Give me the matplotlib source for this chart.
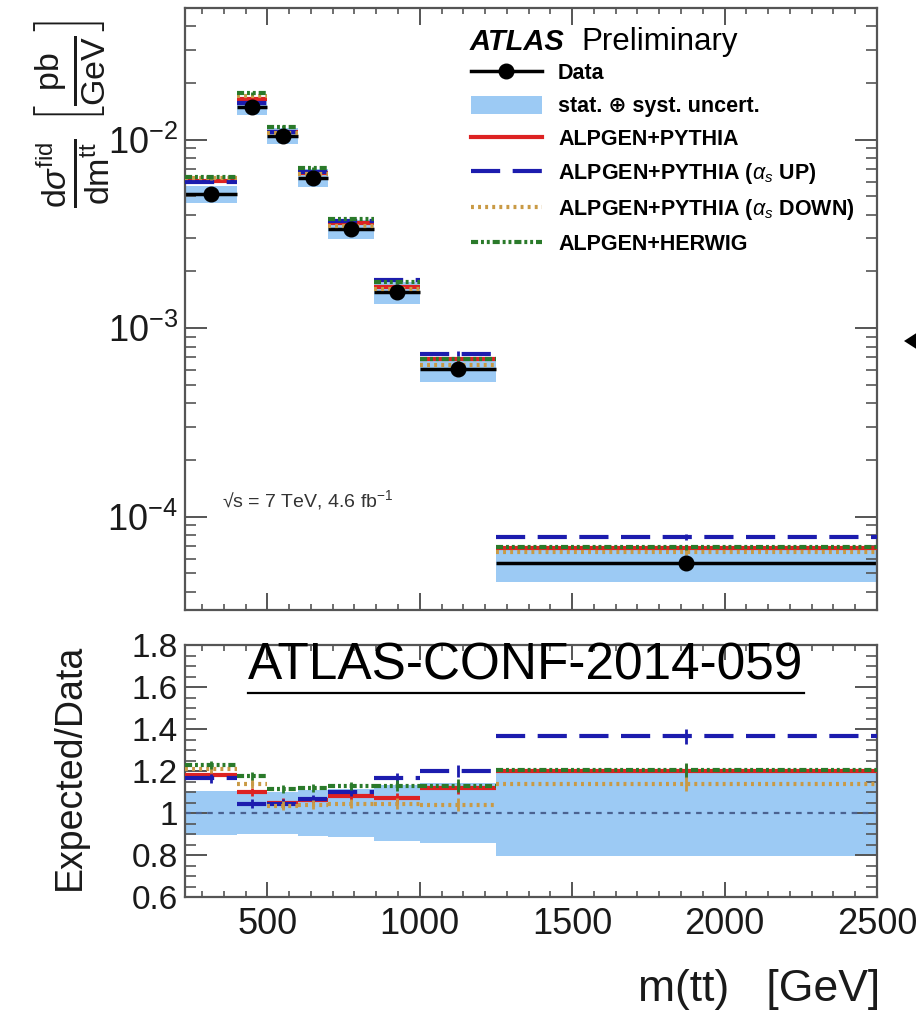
import matplotlib
matplotlib.use("Agg")
import matplotlib.pyplot as plt
import numpy as np
from matplotlib.lines import Line2D
from matplotlib.patches import Patch, Polygon
from matplotlib.ticker import (MultipleLocator, AutoMinorLocator, LogLocator,
                               NullFormatter, FuncFormatter, LogFormatterSciNotation)

plt.rcParams['font.family'] = ['Liberation Sans', 'DejaVu Sans']
plt.rcParams['mathtext.fontset'] = 'custom'
plt.rcParams['mathtext.rm'] = 'Liberation Sans'
plt.rcParams['mathtext.it'] = 'Liberation Sans:italic'
plt.rcParams['mathtext.bf'] = 'Liberation Sans:bold'
plt.rcParams['mathtext.sf'] = 'Liberation Sans'

# ---- m(tt) binning [GeV] ----
bin_edges = [230, 400, 500, 600, 700, 850, 1000, 1250, 2500]

# ---- unfolded fiducial cross-section, dsigma/dm [pb/GeV] ----
data_xsec = [5.15e-3, 1.50e-2, 1.05e-2, 6.3e-3, 3.35e-3, 1.55e-3, 6.1e-4, 5.7e-5]

# ---- total (stat + syst) uncertainty, relative to data ----
unc_low = [0.895, 0.90, 0.90, 0.89, 0.885, 0.865, 0.855, 0.795]
unc_high = [1.105, 1.10, 1.10, 1.11, 1.115, 1.135, 1.145, 1.19]

# ---- expected / data ----
ratio_pythia = [1.18, 1.10, 1.05, 1.06, 1.08, 1.07, 1.12, 1.20]
ratio_as_up = [1.165, 1.045, 1.045, 1.065, 1.10, 1.165, 1.20, 1.365]
ratio_as_down = [1.21, 1.14, 1.035, 1.04, 1.045, 1.045, 1.04, 1.14]
ratio_herwig = [1.23, 1.175, 1.115, 1.12, 1.13, 1.13, 1.13, 1.205]

# MC statistical uncertainty (relative)
mc_stat = [0.02, 0.02, 0.02, 0.02, 0.02, 0.025, 0.03, 0.035]

edges = np.array(bin_edges, dtype=float)
lo, hi = edges[:-1], edges[1:]
centers = 0.5 * (lo + hi)
data = np.array(data_xsec)
ulo, uhi = np.array(unc_low), np.array(unc_high)

band_color = '#9ccaf4'
series = [
    ("ALPGEN+PYTHIA", ratio_pythia, '#dd2222', '-'),
    ("ALPGEN+PYTHIA ($\\alpha_{s}$ UP)", ratio_as_up, '#1c1cae', (0, (7, 3))),
    ("ALPGEN+PYTHIA ($\\alpha_{s}$ DOWN)", ratio_as_down, '#c99a45', (0, (0.7, 1.0))),
    ("ALPGEN+HERWIG", ratio_herwig, '#2a7a2a', (0, (1.7, 0.7, 0.7, 0.7, 0.7, 0.7))),
]
LW = 3.0

fig = plt.figure(figsize=(9.16, 10.17), dpi=100)
W, H = 916.0, 1017.0
ax = fig.add_axes([185 / W, (H - 610) / H, 692 / W, 602 / H])
rax = fig.add_axes([185 / W, (H - 897) / H, 692 / W, 252 / H])

frame_col = '#555555'
for a in (ax, rax):
    for s in a.spines.values():
        s.set_color(frame_col)
        s.set_linewidth(1.6)
    a.set_xlim(bin_edges[0], bin_edges[-1])
    a.xaxis.set_major_locator(MultipleLocator(500))
    a.xaxis.set_minor_locator(AutoMinorLocator(7))
    a.tick_params(which='both', direction='in', top=True, right=True,
                  color=frame_col, labelcolor='#1a1a1a')

# ---------------- upper panel ----------------
ax.set_yscale('log')
ax.set_ylim(3.2e-5, 5.0e-2)
ax.bar(lo, data * (uhi - ulo), bottom=data * ulo, width=hi - lo, align='edge',
       color=band_color, linewidth=0, zorder=1)
ax.hlines(data, lo, hi, color='black', lw=2.5, zorder=2)
for label, r, col, ls in series:
    pred = data * np.array(r)
    ax.hlines(pred, lo, hi, colors=col, linestyles=[ls], lw=LW, zorder=3)
    ax.errorbar(centers, pred, yerr=pred * np.array(mc_stat), fmt='none',
                ecolor=col, elinewidth=2, zorder=3)
ax.plot(centers, data, 'o', color='black', ms=10.5, zorder=5)

ax.yaxis.set_major_locator(LogLocator(base=10, numticks=10))
ax.yaxis.set_minor_locator(LogLocator(base=10, subs=np.arange(2, 10), numticks=20))
ax.yaxis.set_minor_formatter(NullFormatter())
ax.yaxis.set_major_formatter(LogFormatterSciNotation())
ax.tick_params(axis='y', which='major', length=16, width=1.4, labelsize=26, pad=5)
ax.tick_params(axis='y', which='minor', length=8, width=1.2)
ax.tick_params(axis='x', which='major', length=12, width=1.4, labelbottom=False)
ax.tick_params(axis='x', which='minor', length=4, width=1.2)

ax.text(0.411, 0.944, "ATLAS", transform=ax.transAxes, fontsize=21,
        fontweight='bold', fontstyle='italic', va='center', ha='left')
ax.text(0.573, 0.944, "Preliminary", transform=ax.transAxes, fontsize=22.5,
        va='center', ha='left')
ax.text(0.053, 0.183, "\u221as = 7 TeV, 4.6 fb$^{-1}$", transform=ax.transAxes,
        fontsize=14, va='center', ha='left', color='#333333')

handles = [
    Line2D([], [], color='black', marker='o', ms=10.5, lw=2.5),
    Patch(facecolor=band_color, edgecolor='none'),
]
labels = ["Data", "stat. \u2295 syst. uncert."]
for label, r, col, ls in series:
    handles.append(Line2D([], [], color=col, lw=LW, linestyle=ls))
    labels.append(label)
leg = ax.legend(handles, labels, loc='upper left', bbox_to_anchor=(0.413, 0.909),
                frameon=False, borderpad=0, borderaxespad=0,
                prop={'weight': 'bold', 'size': 15.5}, handlelength=3.3,
                handleheight=0.93, handletextpad=0.75, labelspacing=0.52)

# ---------------- ratio panel ----------------
rax.set_ylim(0.6, 1.8)
rax.bar(lo, uhi - ulo, bottom=ulo, width=hi - lo, align='edge',
        color=band_color, linewidth=0, zorder=1)
rax.axhline(1.0, color='#4a6290', lw=1.6, linestyle=(0, (2.5, 2.5)), zorder=2)
for label, r, col, ls in series:
    r = np.array(r)
    rax.hlines(r, lo, hi, colors=col, linestyles=[ls], lw=LW, zorder=3)
    rax.errorbar(centers, r, yerr=np.array(mc_stat), fmt='none',
                 ecolor=col, elinewidth=2, zorder=3)

rax.yaxis.set_major_locator(MultipleLocator(0.2))
rax.yaxis.set_minor_locator(AutoMinorLocator(4))
rax.yaxis.set_major_formatter(FuncFormatter(lambda v, p: f"{v:g}"))
rax.tick_params(axis='y', which='major', length=16, width=1.4, labelsize=24, pad=5)
rax.tick_params(axis='y', which='minor', length=8, width=1.2)
rax.tick_params(axis='x', which='major', length=11, width=1.4, labelsize=26, pad=7)
rax.tick_params(axis='x', which='minor', length=4, width=1.2)

conf = rax.text(526 / W, 1 - 666 / H, "ATLAS-CONF-2014-059", transform=fig.transFigure,
                fontsize=37, va='center', ha='center', color='black')

# axis titles
fig.text(880 / W, 1 - 990 / H, "m(tt)   [GeV]", fontsize=32, ha='right', va='center',
         color='#1a1a1a')
fig.text(70 / W, 1 - 767 / H, "Expected/Data", fontsize=27, rotation=90,
         ha='center', va='center', color='#1a1a1a')
fig.text(72 / W, 1 - 114 / H,
         r"$\frac{\mathrm{d}\sigma^{\mathrm{fid}}}{\mathrm{dm}^{\mathrm{tt}}}\;\left[\frac{\mathrm{pb}}{\mathrm{GeV}}\right]$",
         fontsize=35, rotation=90, ha='center', va='center', color='#1a1a1a')

# pointer mark at the right edge
fig.add_artist(Polygon([[904 / W, 1 - 341 / H], [918 / W, 1 - 332 / H],
                        [918 / W, 1 - 350 / H]], closed=True,
                       transform=fig.transFigure, facecolor='black', edgecolor='none'))

# underline the conference note reference
fig.canvas.draw()
bb = conf.get_window_extent()
inv = fig.transFigure.inverted()
(x0, y0), (x1, _) = inv.transform([(bb.x0, bb.y0 - 2), (bb.x1, bb.y0 - 2)])
fig.add_artist(Line2D([x0, x1], [y0, y0], transform=fig.transFigure,
                      color='black', lw=1.6))

fig.savefig("out.png", dpi=100)
